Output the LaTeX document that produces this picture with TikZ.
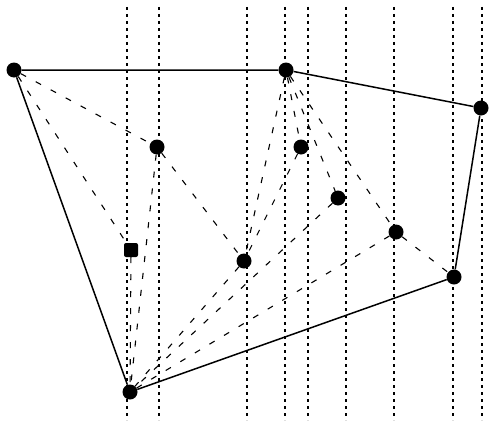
\documentclass[tikz,border=0pt]{standalone}
\begin{document}
\begin{tikzpicture}[x=1pt,y=-1pt,
  vtx/.style={circle,fill=black,inner sep=0pt,minimum size=15pt},
  sqvtx/.style={rectangle,rounded corners=2pt,fill=black,inner sep=0pt,minimum size=14pt},
  hull/.style={line width=1.5pt},
  tri/.style={line width=1.1pt,dash pattern=on 6pt off 11pt},
  sweep/.style={line width=1.2pt,dash pattern=on 3pt off 4pt}]
\useasboundingbox (0,0) rectangle (489,420);
% sweep lines
\foreach \x/\n in {127/1,159/2,247/3,285/4,308/5,346/6,394/7,453/8,482/9}{
  \coordinate (t\n) at (\x,7);
  \coordinate (b\n) at (\x,420);
  \draw[sweep] (t\n) -- (b\n);
}
% vertices
\node[vtx] (A) at (14,70) {};
\node[vtx] (B) at (286,70) {};
\node[vtx] (C) at (481,108) {};
\node[vtx] (D) at (454,277) {};
\node[vtx] (E) at (130,392) {};
\node[vtx] (F) at (157,147) {};
\node[sqvtx] (G) at (131,250) {};
\node[vtx] (H) at (244,261) {};
\node[vtx] (I) at (301,147) {};
\node[vtx] (J) at (338,198) {};
\node[vtx] (K) at (396,232) {};
% hull
\draw[hull] (A) -- (B) -- (C) -- (D) -- (E) -- (A);
% inner dashed edges
\draw[tri] (A) -- (F);
\draw[tri] (A) -- (G);
\draw[tri] (F) -- (H);
\draw[tri] (F) -- (E);
\draw[tri] (G) -- (E);
\draw[tri] (H) -- (E);
\draw[tri] (B) -- (H);
\draw[tri] (I) -- (H);
\draw[tri] (B) -- (I);
\draw[tri] (B) -- (J);
\draw[tri] (J) -- (E);
\draw[tri] (K) -- (E);
\draw[tri] (B) -- (K);
\draw[tri] (K) -- (D);
\end{tikzpicture}
\end{document}
